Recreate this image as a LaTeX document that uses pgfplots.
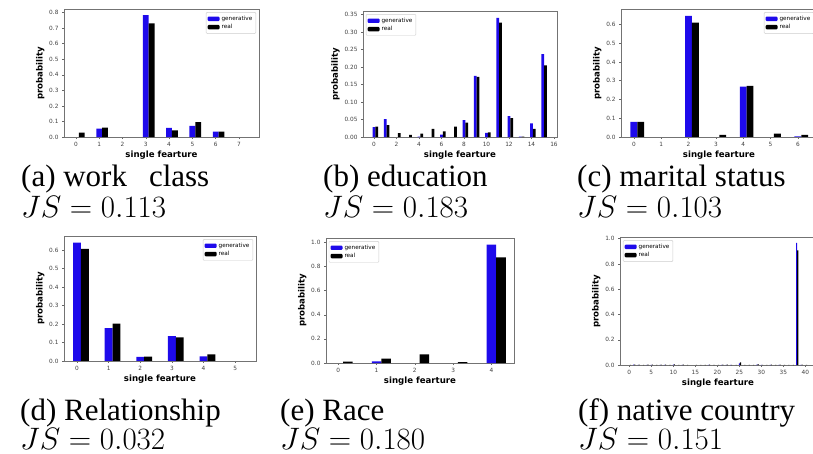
\documentclass[border=0pt]{standalone}
\usepackage{fix-cm}
\usepackage[no-math]{fontspec}
\setmainfont{Liberation Serif}
\newfontfamily\dv{DejaVu Sans}
\usepackage{pgfplots}
\pgfplotsset{compat=1.18}
\usepackage{pgfplotstable}
\definecolor{genblue}{RGB}{30,10,235}

\pgfplotstableread{
x g r
0 0.000 0.028
1 0.054 0.060
2 0.000 0.000
3 0.783 0.731
4 0.058 0.043
5 0.071 0.095
6 0.035 0.035
7 0.000 0.000
}\ta
\pgfplotstableread{
x g r
0 0.028 0.030
1 0.051 0.034
2 0.000 0.011
3 0.000 0.006
4 0.001 0.010
5 0.000 0.023
6 0.007 0.016
7 0.000 0.030
8 0.048 0.041
9 0.175 0.172
10 0.012 0.013
11 0.341 0.327
12 0.060 0.054
13 0.001 0.001
14 0.039 0.023
15 0.237 0.205
}\tb
\pgfplotstableread{
x g r
0 0.080 0.080
1 0.000 0.000
2 0.646 0.610
3 0.000 0.011
4 0.269 0.272
5 0.000 0.018
6 0.003 0.011
}\tc
\pgfplotstableread{
x g r
0 0.640 0.607
1 0.178 0.202
2 0.022 0.023
3 0.135 0.128
4 0.025 0.036
5 0.000 0.000
}\td
\pgfplotstableread{
x g r
0 0.000 0.011
1 0.014 0.036
2 0.000 0.072
3 0.000 0.008
4 0.981 0.875
}\te
\pgfplotstableread{
x g r
0 0.000 0.0006
1 0.002 0.0037
2 0.001 0.0023
3 0.000 0.0018
4 0.001 0.0030
5 0.001 0.0022
6 0.000 0.0009
7 0.001 0.0033
8 0.001 0.0028
9 0.000 0.0009
10 0.002 0.0042
11 0.000 0.0009
12 0.001 0.0020
13 0.000 0.0014
14 0.000 0.0000
15 0.000 0.0004
16 0.000 0.0006
17 0.000 0.0004
18 0.001 0.0031
19 0.000 0.0013
20 0.000 0.0007
21 0.001 0.0022
22 0.001 0.0025
23 0.001 0.0019
24 0.000 0.0006
25 0.012 0.0201
26 0.000 0.0010
27 0.000 0.0004
28 0.000 0.0010
29 0.003 0.0061
30 0.001 0.0018
31 0.000 0.0011
32 0.001 0.0035
33 0.000 0.0004
34 0.001 0.0025
35 0.000 0.0016
36 0.000 0.0005
37 0.000 0.0006
38 0.966 0.9070
39 0.001 0.0021
40 0.000 0.0005
}\tf

\pgfplotsset{
 sub/.style={scale only axis, anchor=north west, ymin=0,
  axis line style={black!55}, every tick/.style={black!60},
  tick align=outside, major tick length=2pt,
  xtick pos=left, ytick pos=left,
  unbounded coords=discard,
  ticklabel style={font=\dv\fontsize{5.8}{6}\selectfont, text=black!75},
  /pgf/number format/assume math mode=true,
  xlabel={single fearture}, ylabel={probability},
  label style={font=\dv\bfseries\fontsize{8.6}{9}\selectfont},
  xlabel style={yshift=3pt},
  ylabel style={yshift=-2pt},
  legend style={font=\dv\fontsize{5.7}{6.5}\selectfont, draw=black!20,
    rounded corners=1pt, inner sep=1.5pt, row sep=-1.5pt,
    cells={anchor=west}},
 },
 gst/.style={ybar, bar width=0.25, bar shift=0pt, fill=genblue, draw=none,
   y filter/.expression={y==0 ? nan : y},
   legend image code/.code={\fill[genblue] (0pt,-2.2pt) rectangle (12pt,2.2pt);}},
 rst/.style={ybar, bar width=0.25, bar shift=0pt, fill=black, draw=none,
   y filter/.expression={y==0 ? nan : y},
   legend image code/.code={\fill[black] (0pt,-2.2pt) rectangle (12pt,2.2pt);}},
 p1/.style={yticklabel style={/pgf/number format/.cd, fixed, fixed zerofill, precision=1}},
 p2/.style={yticklabel style={/pgf/number format/.cd, fixed, fixed zerofill, precision=2}},
 ne/.style={legend style={at={(0.985,0.975)}, anchor=north east}},
 nw/.style={legend style={at={(0.015,0.975)}, anchor=north west}},
}

\begin{document}
\begin{tikzpicture}
\useasboundingbox (0pt,0pt) rectangle (813pt,-454pt);

% (a)
\begin{axis}[sub, p1, ne, at={(64pt,-9pt)}, width=195pt, height=128pt,
  xmin=-0.51, xmax=7.86, ymax=0.823, xtick={0,...,7}, ytick={0,0.1,...,0.8}]
\addplot[gst] table[x=x, y=g] {\ta};
\addplot[rst] table[x expr=\thisrow{x}+0.25, y=r] {\ta};
\legend{generative, real}
\end{axis}

% (b)
\begin{axis}[sub, p2, nw, at={(363pt,-11pt)}, width=194pt, height=126pt,
  xmin=-0.98, xmax=16.27, ymax=0.3605, xtick={0,2,...,16},
  ytick={0,0.05,0.10,0.15,0.20,0.25,0.30,0.35}]
\addplot[gst] table[x=x, y=g] {\tb};
\addplot[rst] table[x expr=\thisrow{x}+0.25, y=r] {\tb};
\legend{generative, real}
\end{axis}

% (c)
\begin{axis}[sub, p1, ne, at={(621pt,-9pt)}, width=196pt, height=128pt,
  xmin=-0.47, xmax=6.7, ymax=0.682, xtick={0,...,6}, ytick={0,0.1,...,0.6}]
\addplot[gst] table[x=x, y=g] {\tc};
\addplot[rst] table[x expr=\thisrow{x}+0.25, y=r] {\tc};
\legend{generative, real}
\end{axis}

% (d)
\begin{axis}[sub, p1, ne, at={(64pt,-236pt)}, width=192pt, height=125pt,
  xmin=-0.41, xmax=5.66, ymax=0.676, xtick={0,...,5}, ytick={0,0.1,...,0.6}]
\addplot[gst] table[x=x, y=g] {\td};
\addplot[rst] table[x expr=\thisrow{x}+0.25, y=r] {\td};
\legend{generative, real}
\end{axis}

% (e)
\begin{axis}[sub, p1, nw, at={(326pt,-238pt)}, width=188pt, height=125pt,
  xmin=-0.32, xmax=4.59, ymax=1.036, xtick={0,...,4}, ytick={0,0.2,...,1.0}]
\addplot[gst] table[x=x, y=g] {\te};
\addplot[rst] table[x expr=\thisrow{x}+0.25, y=r] {\te};
\legend{generative, real}
\end{axis}

% (f)
\begin{axis}[sub, p1, nw, at={(620pt,-237pt)}, width=196pt, height=128pt,
  xmin=-2.1, xmax=42.4, ymax=1.013, xtick={0,5,...,40}, ytick={0,0.2,...,1.0}]
\addplot[gst] table[x=x, y=g] {\tf};
\addplot[rst] table[x expr=\thisrow{x}+0.25, y=r] {\tf};
\legend{generative, real}
\end{axis}

% captions
\tikzset{captxt/.style={anchor=base west, inner sep=0pt, font=\fontsize{31}{31}\selectfont},
         jstxt/.style={anchor=base west, inner sep=0pt, font=\fontsize{31}{31}\selectfont}}
\node[captxt] at (21pt,-187pt) {(a) work\hspace{22pt}class};
\node[jstxt]  at (21pt,-218pt) {$JS = 0.113$};
\node[captxt] at (323pt,-187pt) {(b) education};
\node[jstxt]  at (323pt,-218pt) {$JS = 0.183$};
\node[captxt] at (577pt,-187pt) {(c) marital status};
\node[jstxt]  at (577pt,-218pt) {$JS = 0.103$};
\node[captxt] at (20pt,-420pt) {(d) Relationship};
\node[jstxt]  at (20pt,-449pt) {$JS = 0.032$};
\node[captxt] at (280pt,-420pt) {(e) Race};
\node[jstxt]  at (280pt,-449pt) {$JS = 0.180$};
\node[captxt] at (578pt,-420pt) {(f) native country};
\node[jstxt]  at (578pt,-449pt) {$JS = 0.151$};
\end{tikzpicture}
\end{document}
